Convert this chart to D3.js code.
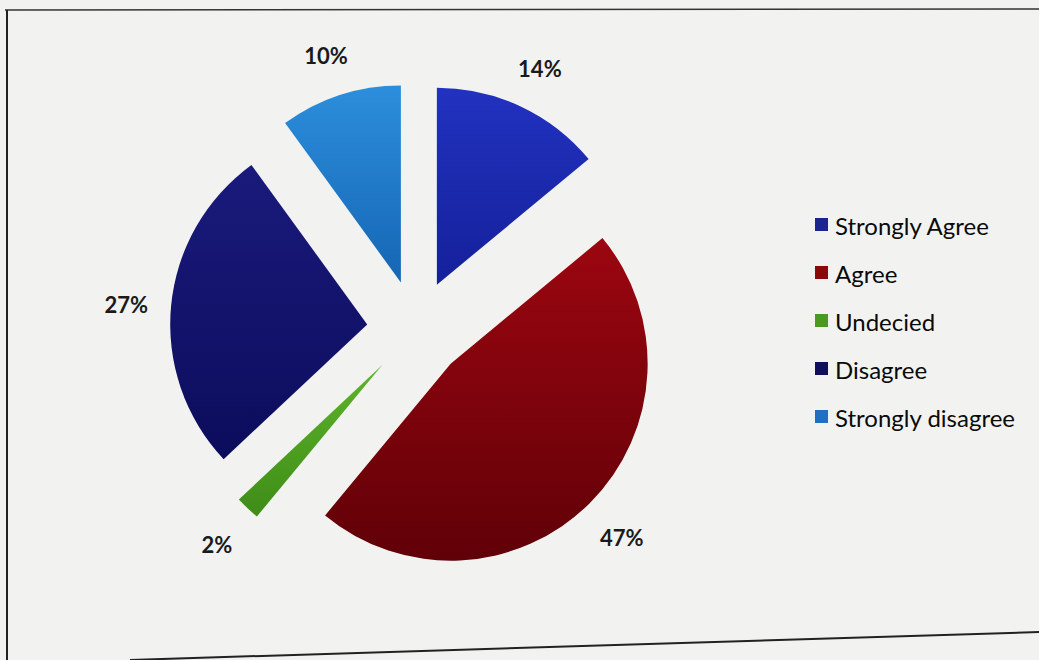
<!DOCTYPE html>
<html>
<head>
<meta charset="utf-8">
<script src="https://cdn.jsdelivr.net/npm/d3@7"></script>
<style>
  body { margin: 0; background: #f2f3f1; }
  svg { display: block; }
</style>
</head>
<body>
<svg id="chart" width="1039" height="660"></svg>
<script>
width = 1039;
height = 660;

// data
categories = ['Strongly Agree', 'Agree', 'Undecied', 'Disagree', 'Strongly disagree'];
values = [14, 47, 2, 27, 10];
labels = ['14%', '47%', '2%', '27%', '10%'];
colorsTop = ['#2232c0', '#9c0610', '#5db52a', '#1a1a7c', '#2c8edc'];
colorsBottom = ['#14209a', '#600007', '#3f8c18', '#0c0c5c', '#1566b4'];
legendColors = ['#1a2590', '#8a0a0a', '#4a9a22', '#0f0f5e', '#1f6fc2'];

cx = 416;
cy = 329;
radius = 197;
explode = 49;
labelRadius = 291;

svg = d3.select('#chart');

// paper frame lines from the photo
svg.append('line').attr('x1', 5).attr('y1', 10).attr('x2', 1039).attr('y2', 9)
	.attr('stroke', '#333').attr('stroke-width', 1.5);
svg.append('line').attr('x1', 7).attr('y1', 10).attr('x2', 7).attr('y2', 660)
	.attr('stroke', '#222').attr('stroke-width', 2);
svg.append('line').attr('x1', 130).attr('y1', 660).attr('x2', 1039).attr('y2', 632)
	.attr('stroke', '#222').attr('stroke-width', 2);

defs = svg.append('defs');
categories.forEach((c, i) => {
	let g = defs.append('linearGradient')
		.attr('id', 'grad' + i)
		.attr('x1', 0).attr('y1', 0).attr('x2', 0).attr('y2', 1);
	g.append('stop').attr('offset', '0%').attr('stop-color', colorsTop[i]);
	g.append('stop').attr('offset', '100%').attr('stop-color', colorsBottom[i]);
});

pie = d3.pie().sort(null)(values);
arc = d3.arc().innerRadius(0).outerRadius(radius);

slices = svg.append('g').attr('transform', `translate(${cx},${cy})`);

slices.selectAll('path')
	.data(pie)
	.enter()
	.append('path')
	.attr('d', arc)
	.attr('fill', (d, i) => `url(#grad${i})`)
	.attr('transform', d => {
		let a = (d.startAngle + d.endAngle) / 2;
		return `translate(${explode * Math.sin(a)},${-explode * Math.cos(a)})`;
	});

slices.selectAll('text')
	.data(pie)
	.enter()
	.append('text')
	.attr('x', d => labelRadius * Math.sin((d.startAngle + d.endAngle) / 2))
	.attr('y', d => -labelRadius * Math.cos((d.startAngle + d.endAngle) / 2) + 3)
	.attr('text-anchor', 'middle')
	.attr('dominant-baseline', 'central')
	.attr('font-family', 'Lato, "Open Sans", sans-serif')
	.attr('font-weight', 'bold')
	.attr('font-size', 22)
	.attr('fill', '#1a1a1a')
	.text((d, i) => labels[i]);

// legend
legend = svg.append('g').attr('transform', 'translate(815,224)');
rows = legend.selectAll('g')
	.data(categories)
	.enter()
	.append('g')
	.attr('transform', (d, i) => `translate(0,${i * 48})`);

rows.append('rect')
	.attr('x', 0).attr('y', -6)
	.attr('width', 13).attr('height', 13)
	.attr('fill', (d, i) => legendColors[i]);

rows.append('text')
	.attr('x', 20).attr('y', 1)
	.attr('dominant-baseline', 'central')
	.attr('font-family', 'Lato, "Open Sans", sans-serif')
	.attr('font-size', 24)
	.attr('fill', '#0a0a0a')
	.text(d => d);
</script>
</body>
</html>
